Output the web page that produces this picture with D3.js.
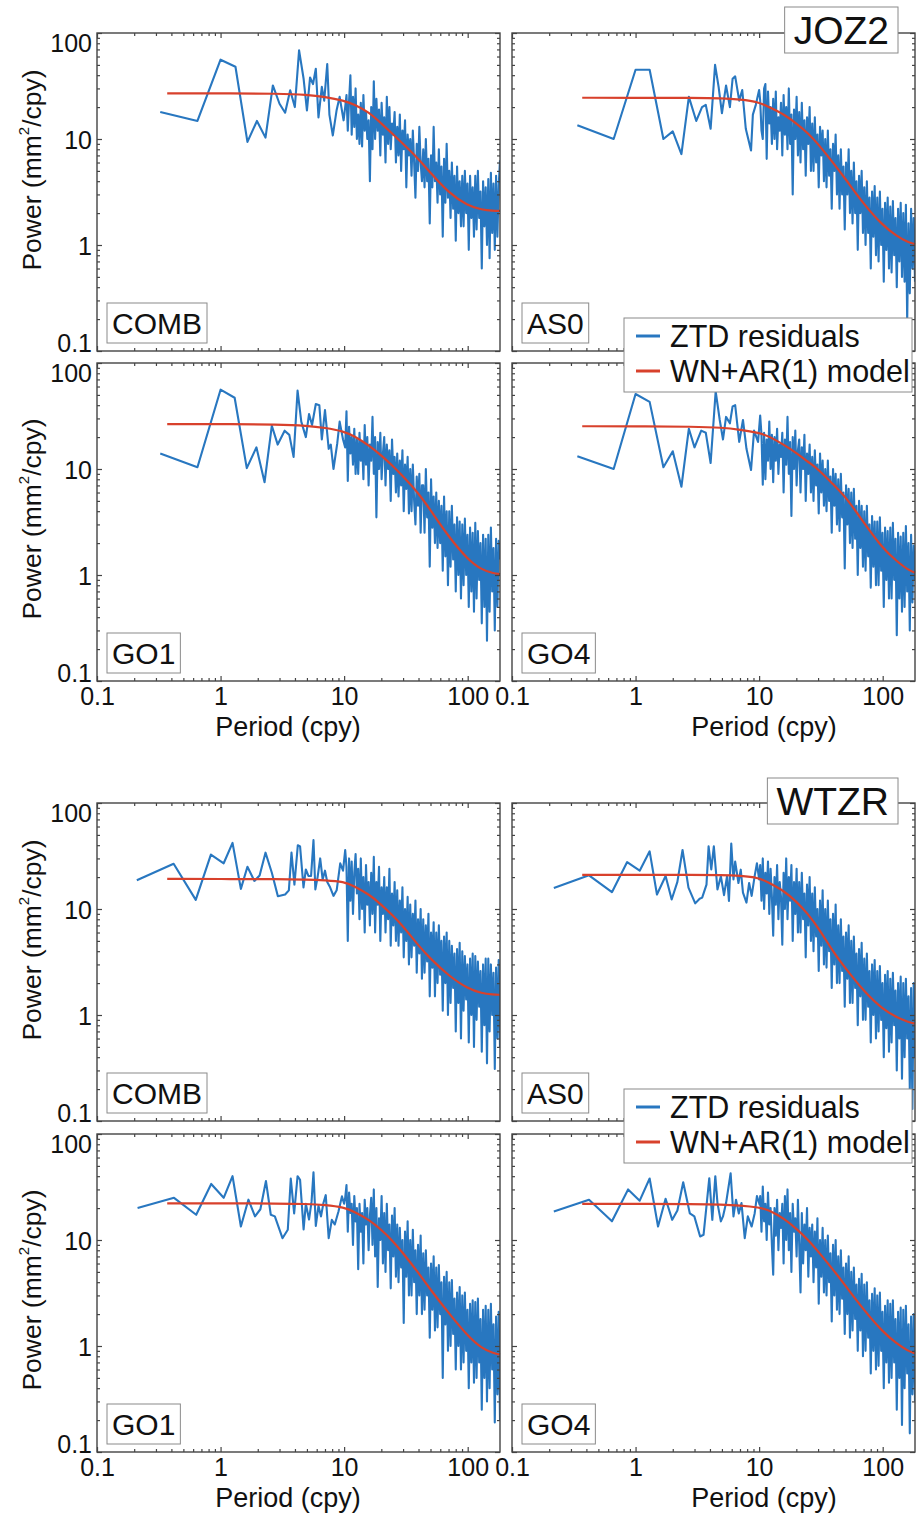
<!DOCTYPE html>
<html>
<head>
<meta charset="utf-8">
<script src="https://cdn.jsdelivr.net/npm/d3@7"></script>
<style>
body { margin: 0; background: #fff; }
text { font-family: "Liberation Sans", Arial, sans-serif; fill: #111; }
</style>
</head>
<body>
<div id="chart"></div>
<script>
// frequency grid ends at the Nyquist frequency of daily data
var nyquist = 182.6;
var highStart = 10.2;

var xTickValues = [0.1, 1, 10, 100];
var xTickLabels = ['0.1', '1', '10', '100'];
var yTickValues = [0.1, 1, 10, 100];
var yTickLabels = ['0.1', '1', '10', '100'];

// frequencies (cpy) where the model curve was read
var modelFreq = [0.37, 1, 3, 5, 7, 10, 12, 16, 20, 25, 30, 40, 50, 70, 100, 130, 160, 182.6];

// ---- JOZ2 ----
// low part: [frequency, power] pairs read one by one
var joz2CombLow = [[0.325,18],[0.65,14.8],[1.0,56],[1.32,48],[1.65,9.4],[1.97,14.8],[2.31,10.3],[2.65,32],[3.0,21.5],[3.33,17.7],[3.66,28.8],[3.99,20],[4.32,68.5],[4.7,37],[5.0,18.6],[5.3,38],[5.6,33],[5.9,46],[6.2,16],[6.6,31],[6.9,23],[7.3,51],[7.6,17],[8.1,10.8],[8.7,18.8],[9.2,25],[9.9,15]];
// dense part: power along the band from 10.2 cpy to Nyquist
var joz2CombHigh = [20,26,12,23,40,11,25,13,30,10, 17,9,22,8.5,26,12,18,10,15,4, 20,8,35,10,24,12,19,7,22,11, 16,6,25,9,20,8,14,11,18,6, 13,7,17,5,12,8,15,3.5,11,7, 10,4.5,12,6,2.8,9,5,13,6,4, 8,3.5,10,4,6.5,1.6,7,3.5,13,4, 6,2.5,8,3,5.5,1.2,6.5,2.5,9,2.8, 5,1.8,6,2.2,4.5,1.1,5.5,2,4,1.5, 4.5,1.5,5,2,3.8,0.9,4.5,1.8,3.5,1.2, 4.5,1.4,5,1.8,3.2,0.6,4,1.5,3.5,1, 4.2,0.75,4.8,1.3,3.8,0.9,4.5,1.2,3.6,6.3];
var joz2CombModel = [27,27,26.8,26.2,25,23,21.3,17.8,14,11,9,6.5,4.8,3.1,2.35,2.15,2.1,2.1];

var joz2As0Low = [[0.338,13.5],[0.665,10],[1.0,45],[1.3,45],[1.68,10],[2.0,11.8],[2.35,7.2],[2.7,25],[3.1,14.8],[3.45,20],[3.7,21],[4.05,12.5],[4.4,50],[4.7,31],[5.0,17.5],[5.4,32],[5.8,20],[6.1,37],[6.4,39],[6.9,23],[7.3,29],[7.8,12.5],[8.6,7.8],[8.9,17],[9.4,21],[10,29]];
var joz2As0High = [23,12,10,30,33,6.5,28,14,20,9, 24,10,28,8,16,12,22,7,26,11, 20,8,30,9,17,3,19,10,25,7, 18,6,22,8,15,4.5,16,9,20,5, 14,5,16,6,11,3.5,13,7,12,4, 10,3.5,12,4.5,8,2.2,9,5,11,3, 7,2.2,8,3,5.5,1.4,6,3,8,2, 5,1.6,6,2,4,0.9,4.5,2,5,1.3, 3.5,1,4,1.3,2.8,0.6,3.2,1.2,3.6,0.8, 2.8,0.7,3.2,1,2.2,0.45,2.5,0.9,2.8,0.6, 2.3,0.55,2.6,0.8,1.8,0.4,2.2,0.7,2.5,0.5, 2,0.45,2.4,0.19,1.6,0.35,2.2,0.6,1.8,0.45];
var joz2As0Model = [24.5,24.5,24.4,24.2,23.6,22.3,20,17,14,11.3,9,5.9,4.2,2.44,1.53,1.21,1.06,1.02];

var joz2Go1Low = [[0.325,14],[0.65,10.4],[1.0,56],[1.3,47],[1.63,10.2],[1.95,16],[2.27,7.5],[2.6,25.6],[2.9,17],[3.3,23],[3.6,21],[3.9,13],[4.2,55],[4.5,28],[4.9,20],[5.2,33],[5.5,26],[5.9,41],[6.3,40],[6.6,19],[7.0,36],[7.5,15.5],[7.8,17],[8.2,10],[8.8,17.5],[9.2,28],[9.8,19]];
var joz2Go1High = [16,35,7.7,25,14,20,11,24,9,19, 9,22,12,18,8,26,11,20,7,17, 12,31,9,20,3.5,18,10,22,8,14, 20,7,17,10,15,5,19,9,13,6, 14,5.5,12,7,15,4,11,6.5,13,3.8, 10,4,11,5,3,8.5,4.5,9,2.5,7, 7,2.5,10,3.5,6,1.2,8,2.8,5.5,2, 6,1.8,5,2,4.5,1.1,5.5,1.5,4,0.8, 4,1.2,4.5,1.4,3,0.7,3.5,1,3.2,0.6, 3,0.8,3.4,1,2.4,0.5,2.8,0.7,2.5,0.45, 3.1,0.6,2.6,0.9,2,0.35,2.4,0.5,2.2,0.24, 2.4,0.45,2.8,0.7,1.8,0.3,2.2,0.5,2.1,1.4];
var joz2Go1Model = [26.5,26.5,26.3,25.6,24.5,22.6,20.5,16.6,13.4,10.6,8.5,5.9,4.1,2.3,1.4,1.12,1.04,1.02];

var joz2Go4Low = [[0.338,13.2],[0.665,10],[1.0,51],[1.3,43],[1.68,10.4],[2.0,14.7],[2.35,6.8],[2.7,24],[3.0,16],[3.4,23],[3.7,22],[4.05,11.4],[4.45,54],[4.8,29],[5.1,19],[5.4,31],[5.8,27],[6.1,39],[6.4,40],[6.9,18],[7.4,29],[7.9,15.5],[8.6,9.8],[9.1,23],[9.8,18]];
var joz2Go4High = [32,21,7.1,22,8,19,12,28,10,21, 7.5,20,12,24,9,17,13,22,6,19, 11,31,9,18,3.6,20,10,23,7,15, 19,6,16,10,21,5,14,9,17,6, 13,5,15,7,11,3.8,14,6,12,4.5, 10,4,12,5,8.5,2.5,10,4.5,9,3, 8,2.6,9,3.5,6,1.15,7,3,6.5,2, 6,1.8,6.5,2.2,4.5,1,5,1.8,4.5,1.2, 4,1.1,4.5,1.5,3,0.76,3.6,1.2,3.2,0.8, 3.2,0.8,3.5,1.1,2.5,0.5,2.8,0.9,2.6,0.6, 2.8,0.6,3.1,0.9,2.2,0.27,2.5,0.6,2.3,0.45, 2.5,0.5,2.9,0.7,2,0.3,2.4,0.55,1.9,0.9];
var joz2Go4Model = [25.3,25.3,25.1,24.6,23.5,21.9,20.4,16.8,14.2,11.6,10,7.1,5.5,3.15,1.78,1.35,1.12,1.05];

// ---- WTZR ----
var wtzrCombLow = [[0.21,18.7],[0.417,26.7],[0.63,12.2],[0.835,32.6],[1.06,27],[1.25,42],[1.46,15.5],[1.65,25],[1.88,18.4],[2.07,20.7],[2.31,34],[2.6,22],[2.91,13.2],[3.33,13.7],[3.57,15],[3.75,34],[3.96,17],[4.22,40],[4.4,39],[4.69,16],[4.9,23.6],[5.14,20.5],[5.4,20.5],[5.65,44.6],[5.85,15.3],[6.1,20],[6.4,30],[6.7,19],[7.0,23],[7.3,18],[7.7,16],[8.2,13.3],[8.7,15],[9.3,27],[9.8,23]];
var wtzrCombHigh = [36,25,5,30,12,28,9,22,33,14, 24,8,30,10,20,6,26,11,18,7, 22,9,31,6,18,11,25,5,16,9, 20,6,16,8,24,4.5,14,7,18,5, 15,4.5,12,6,16,3.5,10,5,13,3, 11,3.5,9,4.5,12,2.5,8,3.8,10,2.2, 8,2.5,7,3.2,9,1.5,6,2.8,7.5,1.5, 6,2,7,2.4,5,1.1,5.5,2,6,1, 5,1.3,4.5,1.8,3.8,0.7,4.2,1.3,4.8,0.6, 4,1.1,3.6,1.4,3,0.55,3.4,1,3.8,0.5, 3.6,0.9,3.2,1.2,2.6,0.45,3,0.8,3.4,0.35, 3.4,0.7,3,1,2.5,0.31,2.8,0.6,3.3,0.5];
var wtzrCombModel = [19.2,19.2,19.1,19,18.7,18.1,16.5,13.7,11,8.6,6.9,4.5,3.4,2.35,1.77,1.6,1.56,1.55];

var wtzrAs0Low = [[0.218,15.8],[0.42,20.8],[0.644,14.4],[0.855,27.7],[1.08,23],[1.3,35],[1.49,13.7],[1.75,20.5],[1.96,12.3],[2.18,18],[2.4,36],[2.68,15.9],[3.04,11.3],[3.3,12.5],[3.46,12.8],[3.75,17],[3.9,39],[4.1,23.6],[4.3,39],[4.6,15.3],[4.9,20.4],[5.2,13.5],[5.5,20.4],[5.7,11.9],[5.95,41.5],[6.2,19],[6.4,28],[6.8,17.6],[7.1,23.5],[7.4,14.3],[7.9,11.5],[8.3,17.6],[8.7,13.3],[9.2,20.4],[9.6,27],[10,19]];
var wtzrAs0High = [26,12,30,10,22,14,28,9,24,13, 5.6,20,11,26,8,18,13,4.6,22,10, 30,8,20,12,26,5,18,9,24,6, 18,6,22,8,14,3.5,17,7,20,5, 14,4,16,5.5,10,2.6,12,4.5,15,3, 10,2.8,12,4,8,1.8,9,3,11,2, 7,2,8,2.6,5.5,1.2,6,2.2,7,1.3, 5,1.3,5.5,1.8,3.8,0.8,4.2,1.5,4.8,0.9, 3.4,0.9,3.8,1.2,2.6,0.55,3,1,3.3,0.6, 2.6,0.7,2.9,0.9,2,0.4,2.4,0.75,2.6,0.45, 2.2,0.55,2.5,0.8,1.7,0.3,2,0.6,2.3,0.25, 2,0.4,2.2,0.6,1.5,0.2,1.8,0.13,2,0.4];
var wtzrAs0Model = [21,21,21,20.9,20.6,19.7,17.7,14.7,11.8,8.9,6.7,3.9,2.76,1.68,1.13,0.95,0.86,0.83];

var wtzrGo1Low = [[0.213,20],[0.42,25],[0.635,17.3],[0.84,33.8],[1.06,25],[1.25,40],[1.46,13.4],[1.68,24],[1.9,16.7],[2.1,19.5],[2.33,36],[2.55,17.3],[2.75,16.7],[3.17,10.4],[3.5,12.5],[3.7,38],[3.94,17.8],[4.2,40],[4.4,37],[4.7,12.6],[4.9,22],[5.2,15.6],[5.45,23],[5.65,43.5],[5.9,13.6],[6.2,21],[6.5,16.7],[6.8,22.3],[7.1,26.5],[7.5,10.4],[7.95,15.5],[8.4,14],[9,18.6],[9.6,25.8],[10,22]];
var wtzrGo1High = [25,33,12,28,18,22,9,26,15,20, 5.3,22,12,18,6,24,14,20,8,17, 25,9,30,7,20,3.6,16,10,26,6, 18,5,22,8,14,3.5,17,7,20,4.5, 14,4,13,5.5,10,1.65,12,4.5,15,3, 10,3,12.5,4,8,2,9,3,11,2, 7.5,2.2,8,3,5.5,1.2,6,2.2,7,1.4, 5.5,1.5,5.8,2,4,0.5,4.5,1.6,5,0.9, 4,1,4.2,1.3,2.8,0.6,3.2,1,3.6,0.6, 3,0.7,3.2,0.9,2.2,0.4,2.5,0.7,2.7,0.45, 2.6,0.5,2.8,0.7,1.8,0.25,2.2,0.5,2.4,0.3, 2.2,0.4,2.5,0.6,1.6,0.19,1.9,0.35,2.1,0.2];
var wtzrGo1Model = [22.2,22.2,22.1,21.9,21.4,20.3,18.6,15.5,12.5,9.7,7.5,4.9,3.4,2.05,1.24,0.95,0.86,0.83];

var wtzrGo4Low = [[0.218,18.6],[0.42,24],[0.644,15],[0.87,30],[1.08,23.5],[1.3,38],[1.52,13.4],[1.75,24.5],[1.98,15.5],[2.18,19],[2.43,35],[2.75,17.8],[2.99,16.7],[3.33,10.8],[3.55,11.2],[3.77,22.3],[3.95,38.3],[4.18,15.5],[4.42,40],[4.6,22.3],[4.9,15],[5.1,16.7],[5.4,22.3],[5.88,42.6],[6.2,16.7],[6.5,24],[6.85,17.8],[7.2,22.3],[7.65,10.4],[8.1,16.7],[8.7,13.4],[9.2,17.8],[9.6,26],[10.1,21.5]];
var wtzrGo4High = [26,12,32,15,22,10,28,14,20,9, 4.7,20,11,24,8,18,13,22,6,26, 10,30,8,18,5,22,12,16,7,24, 9,3.2,18,6,14,8,20,4.5,13,7, 14,4,12,5.5,16,2.5,10,4.5,13,3.2, 10,3,11,4,7.5,1.7,9,3,10,2.2, 7,2,8,2.8,5.5,1.3,6,2,7,1.2, 5,1.4,5.5,1.8,3.8,0.9,4.3,1.4,4.8,0.8, 3.8,0.9,4,1.2,2.7,0.55,3.1,0.9,3.5,0.6, 3,0.65,3.2,0.9,2.1,0.4,2.4,0.7,2.7,0.45, 2.5,0.5,2.7,0.7,1.8,0.25,2.1,0.5,2.3,0.18, 2.2,0.4,2.4,0.55,1.6,0.15,1.9,0.35,2,0.3];
var wtzrGo4Model = [21.9,21.9,21.8,21.6,21.2,20.3,19.2,15.9,12.8,10,7.8,5.2,3.7,2.2,1.36,1.05,0.9,0.85];

var legendLabels = ['ZTD residuals', 'WN+AR(1) model'];

var blue = '#2877c0';
var red = '#d8412c';
var frame = '#444';

var W = 920, H = 1515;
var pw = 403, ph = 318;
var colX = [97, 512];
var rowY = [33, 363, 803, 1134];

var svg = d3.select('#chart')
  .append('svg')
  .attr('width', W)
  .attr('height', H);

svg.append('rect').attr('width', W).attr('height', H).attr('fill', '#fff');

var panels = [
  {id: 'a', col: 0, row: 0, name: 'COMB', low: joz2CombLow, high: joz2CombHigh, model: joz2CombModel},
  {id: 'b', col: 1, row: 0, name: 'AS0', low: joz2As0Low, high: joz2As0High, model: joz2As0Model},
  {id: 'c', col: 0, row: 1, name: 'GO1', low: joz2Go1Low, high: joz2Go1High, model: joz2Go1Model},
  {id: 'd', col: 1, row: 1, name: 'GO4', low: joz2Go4Low, high: joz2Go4High, model: joz2Go4Model},
  {id: 'e', col: 0, row: 2, name: 'COMB', low: wtzrCombLow, high: wtzrCombHigh, model: wtzrCombModel},
  {id: 'f', col: 1, row: 2, name: 'AS0', low: wtzrAs0Low, high: wtzrAs0High, model: wtzrAs0Model},
  {id: 'g', col: 0, row: 3, name: 'GO1', low: wtzrGo1Low, high: wtzrGo1High, model: wtzrGo1Model},
  {id: 'h', col: 1, row: 3, name: 'GO4', low: wtzrGo4Low, high: wtzrGo4High, model: wtzrGo4Model}
];

function blank() { return ''; }

function styleAxis(sel) {
  sel.select('.domain').remove();
  sel.selectAll('line').attr('stroke', frame).attr('stroke-width', 1.2);
}

function drawPanel(p) {
  var left = colX[p.col], top = rowY[p.row];
  var x = d3.scaleLog().domain([0.1, nyquist]).range([0, pw]);
  var y = d3.scaleLog().domain([0.1, 100]).range([ph, 0]);

  var g = svg.append('g').attr('transform', 'translate(' + left + ',' + top + ')');
  g.append('clipPath').attr('id', 'clip-' + p.id)
    .append('rect').attr('width', pw).attr('height', ph);

  // dense part sits on an even log grid between highStart and Nyquist
  var grid = d3.scaleLinear()
    .domain([0, p.high.length - 1])
    .range([Math.log10(highStart), Math.log10(nyquist)]);
  var series = p.low.concat(p.high.map(function(v, i) {
    return [Math.pow(10, grid(i)), v];
  }));

  var line = d3.line()
    .x(function(d) { return x(d[0]); })
    .y(function(d) { return y(d[1]); });

  g.append('path')
    .datum(series)
    .attr('clip-path', 'url(#clip-' + p.id + ')')
    .attr('fill', 'none')
    .attr('stroke', blue)
    .attr('stroke-width', 2.1)
    .attr('stroke-linejoin', 'round')
    .attr('d', line);

  var modelLine = d3.line()
    .curve(d3.curveBasis)
    .x(function(d, i) { return x(modelFreq[i]); })
    .y(function(d) { return y(d); });

  g.append('path')
    .datum(p.model)
    .attr('fill', 'none')
    .attr('stroke', red)
    .attr('stroke-width', 2.2)
    .attr('d', modelLine);

  // ticks on all four sides, pointing inside
  var xMinor = x.ticks().filter(function(d) { return xTickValues.indexOf(d) < 0; });
  var yMinor = y.ticks().filter(function(d) { return yTickValues.indexOf(d) < 0; });
  var showX = p.row % 2 === 1;
  var showY = p.col === 0;

  var bottom = g.append('g').attr('transform', 'translate(0,' + ph + ')')
    .call(d3.axisBottom(x).tickValues(xTickValues).tickSize(-5)
      .tickFormat(showX ? function(d, i) { return xTickLabels[i]; } : blank));
  styleAxis(bottom);
  bottom.selectAll('text')
    .attr('dy', null)
    .attr('y', 24)
    .attr('font-size', '25px')
    .attr('fill', '#111');

  styleAxis(g.append('g').attr('transform', 'translate(0,' + ph + ')')
    .call(d3.axisBottom(x).tickValues(xMinor).tickSize(-3).tickFormat(blank)));
  styleAxis(g.append('g')
    .call(d3.axisTop(x).tickValues(xTickValues).tickSize(-5).tickFormat(blank)));
  styleAxis(g.append('g')
    .call(d3.axisTop(x).tickValues(xMinor).tickSize(-3).tickFormat(blank)));

  var leftAxis = g.append('g')
    .call(d3.axisLeft(y).tickValues(yTickValues).tickSize(-5).tickPadding(5)
      .tickFormat(showY ? function(d, i) { return yTickLabels[i]; } : blank));
  styleAxis(leftAxis);
  leftAxis.selectAll('text')
    .attr('font-size', '25px')
    .attr('fill', '#111')
    .attr('dy', function(d) {
      if (d === 100) return '0.72em';
      if (d === 0.1) return '0.02em';
      return '0.36em';
    });

  styleAxis(g.append('g')
    .call(d3.axisLeft(y).tickValues(yMinor).tickSize(-3).tickFormat(blank)));
  styleAxis(g.append('g').attr('transform', 'translate(' + pw + ',0)')
    .call(d3.axisRight(y).tickValues(yTickValues).tickSize(-5).tickFormat(blank)));
  styleAxis(g.append('g').attr('transform', 'translate(' + pw + ',0)')
    .call(d3.axisRight(y).tickValues(yMinor).tickSize(-3).tickFormat(blank)));

  g.append('rect')
    .attr('width', pw)
    .attr('height', ph)
    .attr('fill', 'none')
    .attr('stroke', frame)
    .attr('stroke-width', 1.4);

  // panel label box
  var lab = g.append('g').attr('transform', 'translate(10,270)');
  var labRect = lab.append('rect')
    .attr('height', 40)
    .attr('fill', '#fff')
    .attr('stroke', '#8a8a8a')
    .attr('stroke-width', 1);
  var labText = lab.append('text')
    .attr('x', 5)
    .attr('y', 31)
    .attr('font-size', '30px')
    .text(p.name);
  labRect.attr('width', labText.node().getComputedTextLength() + 10);

  if (showY) {
    var cy = ph / 2 + (p.row % 2 === 0 ? -22 : -3);
    var ylab = svg.append('text')
      .attr('transform', 'translate(' + 31 + ',' + (top + cy) + ') rotate(-90)')
      .attr('text-anchor', 'middle')
      .attr('dy', '0.36em')
      .attr('font-size', '26.5px');
    ylab.append('tspan').text('Power (mm');
    ylab.append('tspan').attr('font-size', '15px').attr('dy', '-0.75em').text('2');
    ylab.append('tspan').attr('dy', '0.45em').text('/cpy)');
  }

  if (showX) {
    svg.append('text')
      .attr('x', left + (p.col === 0 ? 191 : 252))
      .attr('y', top + ph + 55)
      .attr('text-anchor', 'middle')
      .attr('font-size', '27px')
      .text('Period (cpy)');
  }
}

panels.forEach(drawPanel);

// legends, one per station group
[rowY[1], rowY[3]].forEach(function(rowTop) {
  var lg = svg.append('g').attr('transform', 'translate(624,' + (rowTop - 45) + ')');
  lg.append('rect')
    .attr('width', 288)
    .attr('height', 74)
    .attr('fill', '#fff')
    .attr('stroke', '#8a8a8a')
    .attr('stroke-width', 1);
  [blue, red].forEach(function(c, i) {
    var ly = 18 + i * 35;
    lg.append('line')
      .attr('x1', 12).attr('x2', 36)
      .attr('y1', ly).attr('y2', ly)
      .attr('stroke', c)
      .attr('stroke-width', 3);
    lg.append('text')
      .attr('x', 46)
      .attr('y', ly + 11)
      .attr('font-size', '30.5px')
      .text(legendLabels[i]);
  });
});

// station names
[['JOZ2', 7], ['WTZR', 778]].forEach(function(s) {
  var sg = svg.append('g');
  var r = sg.append('rect')
    .attr('y', s[1])
    .attr('height', 46)
    .attr('fill', '#fff')
    .attr('stroke', '#8a8a8a')
    .attr('stroke-width', 1);
  var t = sg.append('text')
    .attr('y', s[1] + 37)
    .attr('font-size', '39px')
    .text(s[0]);
  var tw = t.node().getComputedTextLength();
  r.attr('x', 898 - tw - 18).attr('width', tw + 18);
  t.attr('x', 898 - tw - 9);
});
</script>
</body>
</html>
